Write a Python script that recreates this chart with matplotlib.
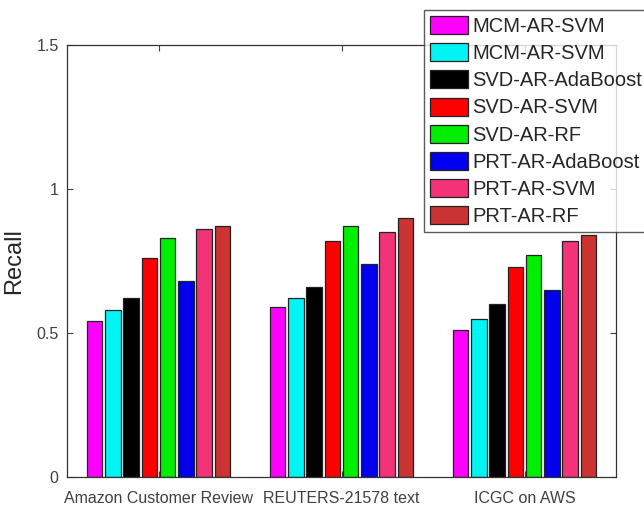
import matplotlib
matplotlib.use("Agg")
import matplotlib.pyplot as plt
import numpy as np

categories = ["Amazon Customer Review", "REUTERS-21578 text", "ICGC on AWS"]
series_names = ["MCM-AR-SVM", "MCM-AR-SVM", "SVD-AR-AdaBoost", "SVD-AR-SVM",
                "SVD-AR-RF", "PRT-AR-AdaBoost", "PRT-AR-SVM", "PRT-AR-RF"]
mcm_svm_1 = [0.54, 0.59, 0.51]
mcm_svm_2 = [0.58, 0.62, 0.55]
svd_ada = [0.62, 0.66, 0.60]
svd_svm = [0.76, 0.82, 0.73]
svd_rf = [0.83, 0.87, 0.77]
prt_ada = [0.68, 0.74, 0.65]
prt_svm = [0.86, 0.85, 0.82]
prt_rf = [0.87, 0.90, 0.84]
series_values = [mcm_svm_1, mcm_svm_2, svd_ada, svd_svm, svd_rf, prt_ada, prt_svm, prt_rf]
colors = ["#ff00ff", "#00f4f4", "#000000", "#ff0000", "#00ee00", "#0000ee",
          "#f33377", "#cc3333"]
yticks = [0, 0.5, 1, 1.5]
ytick_labels = ["0", "0.5", "1", "1.5"]

plt.rcParams['font.family'] = ['Liberation Sans', 'DejaVu Sans']
fig = plt.figure(figsize=(6.44, 5.09), dpi=100)
ax = fig.add_axes([67/644, 1-477/509, (616-67)/644, (477-45)/509])

x = np.arange(1, len(categories) + 1)
n = len(series_values)
pitch = 0.1
width = 0.085
handles = []
for i, (vals, c, name) in enumerate(zip(series_values, colors, series_names)):
    h = ax.bar(x + (i - (n - 1) / 2) * pitch, vals, width=width, color=c,
               edgecolor="#222222", linewidth=0.9, label=name)
    handles.append(h)

ax.set_xlim(0.5, 3.5)
ax.set_ylim(0, 1.5)
ax.set_yticks(yticks)
ax.set_yticklabels(ytick_labels)
ax.set_xticks(x)
ax.set_xticklabels(categories)
gray = "#404040"
ax.tick_params(axis='both', direction='in', length=4, width=0.8, colors=gray,
               top=True, right=True, labelsize=11.5)
ax.tick_params(axis='x', pad=10)
ax.tick_params(axis='y', pad=6)
for s in ax.spines.values():
    s.set_color("#333333")
    s.set_linewidth(0.9)
ax.set_ylabel("Recall", fontsize=17, color="#262626", labelpad=8)

leg = fig.legend(handles=handles, labels=series_names, loc='upper left',
                 bbox_to_anchor=(424/644, 1-10/509), bbox_transform=fig.transFigure,
                 borderaxespad=0, fontsize=14.5, frameon=True, fancybox=False,
                 handlelength=1.9, handleheight=1.0, handletextpad=0.2,
                 labelspacing=0.36, borderpad=0.3)
leg.get_frame().set_edgecolor("#333333")
leg.get_frame().set_linewidth(1.0)
for t in leg.get_texts():
    t.set_color("#262626")

fig.savefig("out.png", dpi=100)
